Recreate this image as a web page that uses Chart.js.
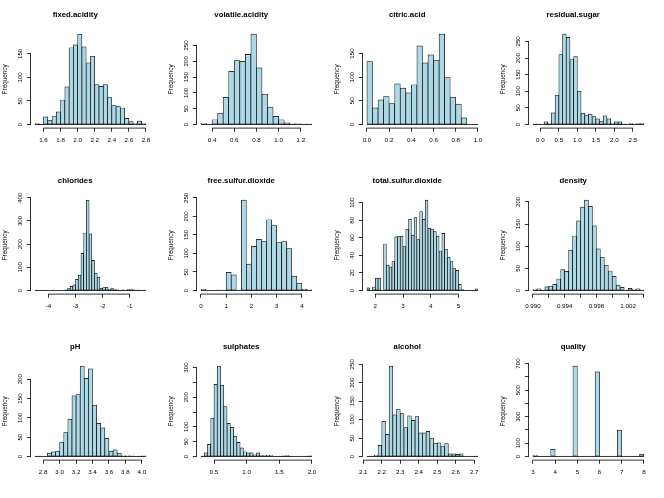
<!DOCTYPE html>
<html>
<head>
<meta charset="utf-8">
<script src="https://cdn.jsdelivr.net/npm/chart.js@4"></script>
<style>
  html, body { margin: 0; padding: 0; background: #fff; }
  #grid { position: relative; width: 664px; height: 498px; }
  #grid canvas { position: absolute; }
</style>
</head>
<body>
<div id="grid"></div>
<script>
// ── panels, in reading order ──
const panelNames = ['fixed.acidity', 'volatile.acidity', 'citric.acid', 'residual.sugar',
                    'chlorides', 'free.sulfur.dioxide', 'total.sulfur.dioxide', 'density',
                    'pH', 'sulphates', 'alcohol', 'quality'];

// first break and bin width of each histogram
const binStarts = [1.5, 0.3, 0, -0.2, -4.5, 0, 1.7, 0.990, 2.7, 0.3, 2.12, 3];
const binWidths = [0.05, 0.05, 0.05, 0.1, 0.1, 0.2, 0.1, 0.0005, 0.05, 0.05, 0.02, 0.2];

// ── counts per bin ──
const fixedAcidity  = [2, 1, 16, 9, 17, 27, 52, 80, 163, 169, 192, 165, 131, 145, 85, 81, 85, 57, 40, 39, 35, 13, 6, 2, 7, 2];
const volatileAcid  = [4, 1, 15, 36, 86, 168, 202, 200, 222, 286, 179, 96, 55, 26, 15, 5, 2, 2, 1, 1];
const citricAcid    = [133, 35, 52, 59, 44, 86, 77, 67, 84, 166, 130, 147, 136, 191, 99, 58, 43, 14, 0, 1];
const residualSugar = [2, 1, 0, 8, 4, 35, 88, 210, 272, 262, 197, 204, 100, 34, 28, 31, 24, 17, 10, 26, 17, 4, 8, 8, 2, 0, 3, 1, 3, 3];
const chlorides     = [2, 0, 0, 0, 0, 0, 0, 0, 0, 0, 0, 3, 8, 18, 24, 48, 66, 160, 248, 390, 244, 130, 75, 58,
                       10, 12, 14, 6, 8, 6, 3, 2, 3, 2, 4, 6, 3, 1, 1, 0, 1];
const freeSulfur    = [3, 0, 0, 1, 0, 49, 42, 0, 244, 71, 119, 138, 132, 191, 175, 129, 132, 113, 39, 20, 4, 2];
const totalSulfur   = [3, 0, 4, 14, 14, 0, 53, 29, 27, 33, 61, 62, 62, 50, 70, 81, 63, 83, 58, 90, 81, 103, 71, 70, 67, 62, 45, 65, 47, 38, 33, 25, 23, 7, 1, 0, 0, 0, 0, 2];
const density       = [2, 4, 1, 8, 10, 14, 26, 47, 43, 91, 123, 157, 188, 204, 190, 146, 94, 75, 57, 44, 32, 12, 7, 1, 5, 2, 4, 1];
const pH            = [1, 0, 0, 9, 12, 14, 37, 62, 97, 157, 160, 234, 202, 227, 133, 86, 74, 47, 14, 17, 9, 2, 2, 2, 0, 1, 2];
const sulphates     = [1, 12, 41, 129, 243, 305, 241, 168, 112, 98, 69, 48, 29, 16, 12, 12, 6, 12, 3, 3, 4, 3, 0, 0, 1, 2, 3, 1, 0, 0, 0, 0, 1, 2];
const alcohol       = [1, 1, 4, 30, 95, 60, 245, 113, 128, 116, 78, 110, 98, 108, 64, 64, 68, 50, 35, 37, 27, 35, 7, 7, 6, 7, 0, 0, 0, 1];
const quality       = [10, 0, 0, 0, 53, 0, 0, 0, 0, 681, 0, 0, 0, 0, 638, 0, 0, 0, 0, 199, 0, 0, 0, 0, 18];

// ── axis ticks ('' = tick mark without label) ──
const xTicks = [
  [1.6, 1.8, 2.0, 2.2, 2.4, 2.6, 2.8],
  [0.4, 0.6, 0.8, 1.0, 1.2],
  [0, 0.2, 0.4, 0.6, 0.8, 1.0],
  [0, 0.5, 1, 1.5, 2, 2.5],
  [-4, -3, -2, -1],
  [0, 1, 2, 3, 4],
  [2, 3, 4, 5],
  [0.990, 0.992, 0.994, 0.996, 0.998, 1.000, 1.002, 1.004],
  [2.8, 3.0, 3.2, 3.4, 3.6, 3.8, 4.0],
  [0.5, 1.0, 1.5, 2.0],
  [2.1, 2.2, 2.3, 2.4, 2.5, 2.6, 2.7],
  [3, 4, 5, 6, 7, 8]
];
const xLabels = [
  ['1.6', '1.8', '2.0', '2.2', '2.4', '2.6', '2.8'],
  ['0.4', '0.6', '0.8', '1.0', '1.2'],
  ['0.0', '0.2', '0.4', '0.6', '0.8', '1.0'],
  ['0.0', '0.5', '1.0', '1.5', '2.0', '2.5'],
  ['-4', '-3', '-2', '-1'],
  ['0', '1', '2', '3', '4'],
  ['2', '3', '4', '5'],
  ['0.990', '', '0.994', '', '0.998', '', '1.002', ''],
  ['2.8', '3.0', '3.2', '3.4', '3.6', '3.8', '4.0'],
  ['0.5', '1.0', '1.5', '2.0'],
  ['2.1', '2.2', '2.3', '2.4', '2.5', '2.6', '2.7'],
  ['3', '4', '5', '6', '7', '8']
];
const yTicks = [
  [0, 50, 100, 150],
  [0, 50, 100, 150, 200, 250],
  [0, 50, 100, 150],
  [0, 50, 100, 150, 200, 250],
  [0, 100, 200, 300, 400],
  [0, 50, 100, 150, 200, 250],
  [0, 20, 40, 60, 80, 100],
  [0, 50, 100, 150, 200],
  [0, 50, 100, 150, 200],
  [0, 50, 100, 150, 200, 250, 300],
  [0, 50, 100, 150, 200, 250],
  [0, 100, 200, 300, 400, 500, 600, 700]
];
const yLabels = [
  ['0', '50', '100', '150'],
  ['0', '50', '100', '150', '200', '250'],
  ['0', '50', '100', '150'],
  ['0', '50', '100', '150', '200', '250'],
  ['0', '100', '200', '300', '400'],
  ['0', '50', '100', '150', '200', '250'],
  ['0', '20', '40', '60', '80', '100'],
  ['0', '50', '100', '150', '200'],
  ['0', '50', '100', '150', '200'],
  ['0', '50', '100', '', '200', '', '300'],
  ['0', '50', '100', '150', '200', '250'],
  ['0', '100', '', '300', '', '500', '', '700']
];

const countSets = [fixedAcidity, volatileAcid, citricAcid, residualSugar, chlorides, freeSulfur,
                   totalSulfur, density, pH, sulphates, alcohol, quality];

const FONT = 'Liberation Sans, Arial, Helvetica, sans-serif';
const INK  = '#000';

// R style axes: line only from first to last tick, plus the zero line under the bins
const rAxes = {
    id: 'rAxes',
    afterDraw(chart, args, opts) {
        const { ctx, chartArea, scales: { x, y } } = chart;
        const xt = x.ticks, yt = y.ticks;
        ctx.save();
        ctx.strokeStyle = INK;
        ctx.lineWidth = 0.8;
        ctx.beginPath();
        ctx.moveTo(x.getPixelForValue(xt[0].value), chartArea.bottom);
        ctx.lineTo(x.getPixelForValue(xt[xt.length - 1].value), chartArea.bottom);
        ctx.moveTo(chartArea.left, y.getPixelForValue(yt[0].value));
        ctx.lineTo(chartArea.left, y.getPixelForValue(yt[yt.length - 1].value));
        const y0 = y.getPixelForValue(0);
        ctx.moveTo(x.getPixelForValue(opts.lo), y0);
        ctx.lineTo(x.getPixelForValue(opts.hi), y0);
        ctx.stroke();
        ctx.restore();
    }
};

const grid = document.getElementById('grid');

countSets.forEach((counts, p) => {
    const canvas = document.createElement('canvas');
    canvas.width = 166;
    canvas.height = 166;
    canvas.style.left = (p % 4) * 166 + 'px';
    canvas.style.top  = Math.floor(p / 4) * 166 + 'px';
    grid.appendChild(canvas);

    const lo   = binStarts[p];
    const w    = binWidths[p];
    const hi   = lo + counts.length * w;
    const pad  = (hi - lo) * 0.04;
    const ymax = Math.max(...counts);

    new Chart(canvas.getContext('2d'), {
        type: 'bar',
        data: {
            datasets: [{
                data: counts.map((c, i) => ({ x: lo + (i + 0.5) * w, y: c })),
                backgroundColor: '#add8e6',
                borderColor: INK,
                borderWidth: 0.7,
                borderSkipped: false,
                barPercentage: 1,
                categoryPercentage: 1
            }]
        },
        options: {
            responsive: false,
            animation: false,
            devicePixelRatio: 1,
            layout: { padding: { left: 0, right: 15.6, top: 0, bottom: 0 } },
            plugins: {
                legend: { display: false },
                tooltip: { enabled: false },
                title: {
                    display: true,
                    text: panelNames[p],
                    color: INK,
                    font: { family: FONT, size: 7.8, weight: 'bold' },
                    padding: { top: 10.6, bottom: 10.5 }
                },
                rAxes: { lo, hi }
            },
            scales: {
                x: {
                    type: 'linear',
                    min: lo - pad,
                    max: hi + pad,
                    offset: false,
                    border: { display: false },
                    grid: { offset: false, drawOnChartArea: false, drawTicks: true, tickLength: 3.7, color: INK, lineWidth: 0.8 },
                    ticks: {
                        autoSkip: false, maxRotation: 0, padding: 4.7, color: INK,
                        font: { family: FONT, size: 6.2 },
                        callback: (v, i) => xLabels[p][i]
                    },
                    afterBuildTicks: s => { s.ticks = xTicks[p].map(v => ({ value: v })); },
                    afterFit: s => { s.height = 37.9; }
                },
                y: {
                    type: 'linear',
                    min: -0.04 * ymax,
                    max: 1.04 * ymax,
                    border: { display: false },
                    grid: { drawOnChartArea: false, drawTicks: true, tickLength: 3.7, color: INK, lineWidth: 0.8 },
                    ticks: {
                        autoSkip: false, minRotation: 90, maxRotation: 90, crossAlign: 'center',
                        padding: 1.1, color: INK,
                        font: { family: FONT, size: 6.2 },
                        callback: (v, i) => yLabels[p][i]
                    },
                    title: {
                        display: true, text: 'Frequency', color: INK,
                        font: { family: FONT, size: 6.35 },
                        padding: { top: 1.2, bottom: 0 }
                    },
                    afterBuildTicks: s => { s.ticks = yTicks[p].map(v => ({ value: v })); },
                    afterFit: s => { s.width = 30.5; }
                }
            }
        },
        plugins: [rAxes]
    });
});
</script>
</body>
</html>
